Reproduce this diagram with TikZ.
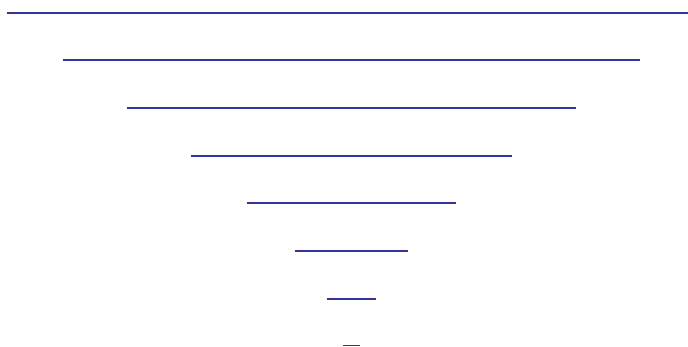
\documentclass[tikz,border=0pt]{standalone}
\begin{document}
\begin{tikzpicture}[x=1pt,y=-1pt,
  funnelline/.style={draw=navyline,line width=1.6pt}]
\definecolor{navyline}{RGB}{52,52,158}
\useasboundingbox (0,0) rectangle (688,347);
\draw[funnelline] (7,13) -- (688,13);
\draw[funnelline] (63,60) -- (640,60);
\draw[funnelline] (127,108) -- (576,108);
\draw[funnelline] (191,156) -- (512,156);
\draw[funnelline] (247,203) -- (456,203);
\draw[funnelline] (295,251) -- (408,251);
\draw[funnelline] (327,299) -- (376,299);
\draw[funnelline] (343,345.5) -- (360,345.5);
\end{tikzpicture}
\end{document}
